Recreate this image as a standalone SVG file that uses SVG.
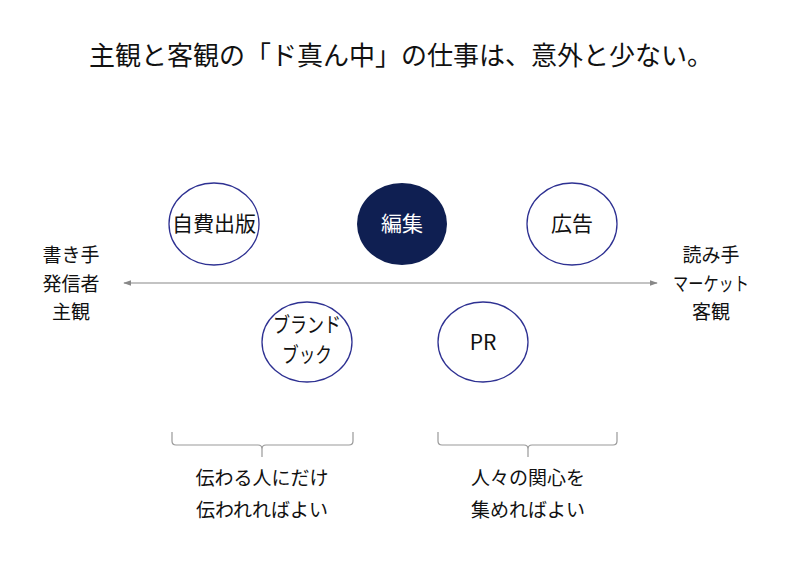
<svg xmlns="http://www.w3.org/2000/svg" width="800" height="562" viewBox="0 0 800 562">
<defs>
<style>
text{font-family:"Noto Sans CJK JP","Liberation Sans",sans-serif;fill:#111;text-anchor:middle}
.title{font-size:26px}
.node{font-size:21px}
.lbl{font-size:19px}
.c{fill:#fff;stroke:#2E3192;stroke-width:1.3}
.brace{fill:none;stroke:#999;stroke-width:1.2}
</style>
<marker id="ah" viewBox="0 0 10 10" refX="9" refY="5" markerWidth="8" markerHeight="8" orient="auto-start-reverse" markerUnits="userSpaceOnUse">
<path d="M0,1.5 L10,5 L0,8.5 Z" fill="#888"/>
</marker>
</defs>
<rect width="800" height="562" fill="#fff"/>
<text class="title" x="401" y="65">主観と客観の「ド真ん中」の仕事は、意外と少ない。</text>
<g id="connectors">
<line x1="124" y1="283" x2="657" y2="283" stroke="#888" stroke-width="1.2" marker-start="url(#ah)" marker-end="url(#ah)"/>
<path class="brace" d="M172,432 v9 q0,4 4,4 H258 q4,0 4,4 v8 M262,449 q0,-4 4,-4 H349 q4,0 4,-4 v-9"/>
<path class="brace" d="M438,432 v9 q0,4 4,4 H524 q4,0 4,4 v8 M528,449 q0,-4 4,-4 H613 q4,0 4,-4 v-9"/>
</g>
<g id="node-jihi"><ellipse class="c" cx="214" cy="224" rx="45" ry="41"/><text class="node" x="214" y="231">自費出版</text></g>
<g id="node-henshu"><ellipse cx="402" cy="224" rx="45" ry="41" fill="#0F1F52"/><text class="node" x="402" y="231" style="fill:#fff">編集</text></g>
<g id="node-koukoku"><ellipse class="c" cx="572" cy="224" rx="45" ry="41"/><text class="node" x="572" y="231">広告</text></g>
<g id="node-brand"><ellipse class="c" cx="307" cy="342" rx="45" ry="40"/><text class="node" x="307" y="332" textLength="68" lengthAdjust="spacingAndGlyphs">ブランド</text><text class="node" x="307" y="362" textLength="50" lengthAdjust="spacingAndGlyphs">ブック</text></g>
<g id="node-pr"><ellipse class="c" cx="483" cy="342" rx="45" ry="40"/><text class="node" x="483" y="350">PR</text></g>
<g id="label-left"><text class="lbl" x="71" y="262">書き手</text><text class="lbl" x="71" y="291">発信者</text><text class="lbl" x="71" y="319">主観</text></g>
<g id="label-right"><text class="lbl" x="711" y="262">読み手</text><text class="lbl" x="711" y="291" textLength="76" lengthAdjust="spacingAndGlyphs">マーケット</text><text class="lbl" x="711" y="319">客観</text></g>
<g id="label-bottom-left"><text class="lbl" x="262" y="485">伝わる人にだけ</text><text class="lbl" x="262" y="517">伝われればよい</text></g>
<g id="label-bottom-right"><text class="lbl" x="528" y="485">人々の関心を</text><text class="lbl" x="528" y="517">集めればよい</text></g>
</svg>
